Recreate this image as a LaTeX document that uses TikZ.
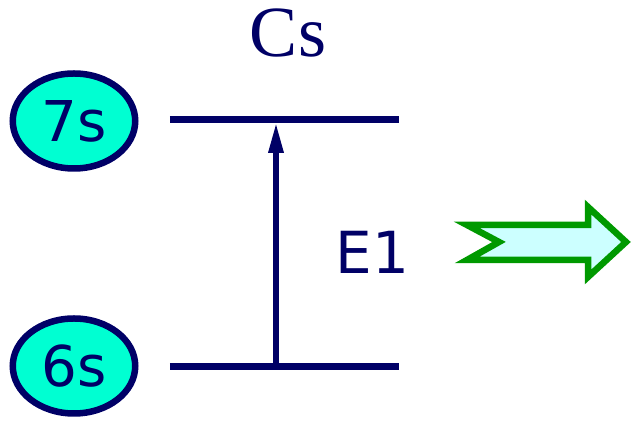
\documentclass[tikz,border=0pt]{standalone}
\usepackage{fontspec}
\setmainfont{DejaVu Sans}
\newfontfamily\serifcs{Liberation Serif}
\definecolor{navy}{RGB}{0,0,102}
\definecolor{aqua}{RGB}{0,255,210}
\definecolor{grn}{RGB}{0,153,0}
\definecolor{pale}{RGB}{204,255,255}
\tikzset{
  orbit/.style={ellipse,draw=navy,fill=aqua,line width=0.13cm,minimum width=2.45cm,minimum height=1.9cm,inner sep=0pt,text=navy,font=\fontsize{32}{32}\selectfont},
  level/.style={navy,line width=0.14cm}
}
\usetikzlibrary{shapes.geometric,arrows.meta}
\begin{document}
\begin{tikzpicture}
\useasboundingbox(0,0)rectangle(12.66,8.46);
\node[orbit](s7)at(1.48,6.04){7s};
\node[orbit](s6)at(1.48,1.14){6s};
\coordinate(a7)at(3.40,6.06);\coordinate(b7)at(7.98,6.06);
\coordinate(a6)at(3.40,1.13);\coordinate(b6)at(7.98,1.13);
\draw[level](a7)--(b7);
\draw[level](a6)--(b6);
\coordinate(up)at(5.52,6.02);\coordinate(dn)at(5.52,1.13);
\draw[navy,line width=0.12cm,-{Triangle[length=0.62cm,width=0.28cm]}](dn)--(up);
\node[text=navy,font=\serifcs\fontsize{41}{41}\selectfont,anchor=base](cs)at(5.76,7.32){Cs};
\node[text=navy,font=\fontsize{33}{33}\selectfont](e1)at(7.45,3.42){E1};
\draw[grn,fill=pale,line width=0.13cm,line join=miter]
  (9.34,3.96)--(9.98,3.62)--(9.34,3.26)--(11.76,3.26)--(11.76,2.92)--(12.52,3.62)--(11.76,4.32)--(11.76,3.96)--cycle;
\end{tikzpicture}
\end{document}
